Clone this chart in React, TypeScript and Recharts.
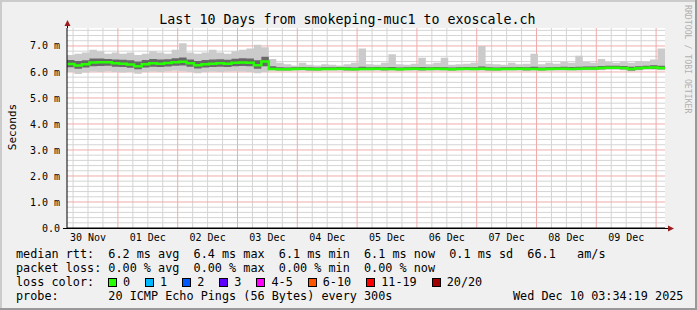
import React from "react";
import { ComposedChart, Area, Line, XAxis, YAxis, CartesianGrid } from "recharts";

// hours after 30 Nov 00:00, graph starts 30 Nov 03:34:19
const START = 3.572;
const STEP = 3;
const SPAN = 240;

const medianRtt = [
  6.31, 6.25, 6.3, 6.36, 6.37, 6.37, 6.33, 6.32, 6.29, 6.22,
  6.3, 6.33, 6.32, 6.34, 6.37, 6.39, 6.33, 6.26, 6.3, 6.32,
  6.33, 6.32, 6.35, 6.36, 6.35, 6.26, 6.4, 6.11, 6.1, 6.1,
  6.11, 6.12, 6.11, 6.1, 6.11, 6.11, 6.12, 6.11, 6.1, 6.11,
  6.11, 6.12, 6.11, 6.11, 6.1, 6.11, 6.12, 6.11, 6.11, 6.12,
  6.11, 6.1, 6.11, 6.12, 6.11, 6.12, 6.11, 6.1, 6.11, 6.11,
  6.12, 6.11, 6.11, 6.1, 6.11, 6.12, 6.12, 6.11, 6.12, 6.13,
  6.13, 6.15, 6.16, 6.16, 6.15, 6.11, 6.14, 6.16, 6.17, 6.15,
  6.15,
];

const smokeMin = [
  6.0, 5.92, 5.98, 6.02, 6.0, 6.03, 6.0, 5.98, 6.0, 5.93,
  6.0, 6.02, 6.0, 6.03, 6.05, 6.03, 6.0, 5.95, 6.0, 6.02,
  6.0, 6.02, 6.03, 6.02, 6.0, 5.95, 6.0, 6.05, 6.04, 6.04,
  6.05, 6.05, 6.04, 6.04, 6.05, 6.05, 6.05, 6.04, 6.04, 6.05,
  6.05, 6.05, 6.04, 6.05, 6.04, 6.05, 6.05, 6.04, 6.05, 6.05,
  6.05, 6.04, 6.05, 6.05, 6.05, 6.05, 6.04, 6.04, 6.05, 6.05,
  6.05, 6.04, 6.05, 6.04, 6.05, 6.05, 6.05, 6.05, 6.05, 6.06,
  6.06, 6.07, 6.08, 6.08, 6.07, 6.03, 6.06, 6.08, 6.08, 6.07,
  6.07,
];

const smokeLo = [
  6.18, 6.12, 6.17, 6.22, 6.23, 6.24, 6.2, 6.19, 6.16, 6.1,
  6.17, 6.2, 6.19, 6.21, 6.24, 6.25, 6.2, 6.13, 6.17, 6.19,
  6.2, 6.19, 6.22, 6.23, 6.22, 6.12, 6.22, 6.08, 6.07, 6.07,
  6.08, 6.08, 6.07, 6.07, 6.08, 6.08, 6.08, 6.07, 6.07, 6.08,
  6.08, 6.08, 6.07, 6.08, 6.07, 6.08, 6.08, 6.07, 6.08, 6.08,
  6.08, 6.07, 6.08, 6.08, 6.08, 6.08, 6.07, 6.07, 6.08, 6.08,
  6.08, 6.07, 6.08, 6.07, 6.08, 6.08, 6.08, 6.08, 6.08, 6.09,
  6.09, 6.1, 6.11, 6.11, 6.1, 6.06, 6.09, 6.11, 6.11, 6.1,
  6.1,
];

const smokeHi = [
  6.46, 6.42, 6.45, 6.52, 6.52, 6.5, 6.48, 6.47, 6.45, 6.4,
  6.46, 6.5, 6.48, 6.49, 6.53, 6.56, 6.48, 6.42, 6.46, 6.48,
  6.49, 6.47, 6.51, 6.53, 6.52, 6.45, 6.58, 6.22, 6.18, 6.17,
  6.18, 6.19, 6.18, 6.17, 6.18, 6.18, 6.19, 6.18, 6.17, 6.2,
  6.18, 6.19, 6.18, 6.19, 6.17, 6.18, 6.19, 6.19, 6.18, 6.19,
  6.18, 6.17, 6.18, 6.19, 6.18, 6.21, 6.18, 6.17, 6.18, 6.18,
  6.19, 6.18, 6.2, 6.17, 6.18, 6.19, 6.2, 6.19, 6.2, 6.21,
  6.21, 6.23, 6.24, 6.24, 6.23, 6.2, 6.22, 6.24, 6.26, 6.24,
  6.24,
];

const smokeMax = [
  6.65, 6.7, 6.75, 6.85, 6.8, 6.7, 6.75, 6.7, 6.75, 6.65,
  6.7, 6.8, 6.75, 6.7, 6.85, 7.1, 6.75, 6.7, 6.75, 6.85,
  6.75, 6.7, 6.8, 6.85, 6.9, 7.05, 6.95, 6.5, 6.35, 6.3,
  6.25, 6.35, 6.28, 6.25, 6.3, 6.28, 6.25, 6.3, 6.35, 6.9,
  6.3, 6.28, 6.35, 6.68, 6.3, 6.28, 6.32, 6.55, 6.3, 6.35,
  6.55, 6.28, 6.3, 6.32, 6.35, 7.0, 6.32, 6.3, 6.28, 6.35,
  6.3, 6.32, 6.7, 6.3, 6.35, 6.32, 6.38, 6.35, 6.62, 6.38,
  6.35, 6.5, 6.38, 6.35, 6.4, 6.35, 6.42, 6.4, 6.48, 6.9,
  6.4,
];

const dayTicks = [12, 36, 60, 84, 108, 132, 156, 180, 204, 228];
const dayLabels = ["30 Nov", "01 Dec", "02 Dec", "03 Dec", "04 Dec", "05 Dec", "06 Dec", "07 Dec", "08 Dec", "09 Dec"];
const yTicks = [0, 1, 2, 3, 4, 5, 6, 7];

const lossColors = [
  { label: "0", color: "#26ff00" },
  { label: "1", color: "#00b8ff" },
  { label: "2", color: "#0059ff" },
  { label: "3", color: "#5e00ff" },
  { label: "4-5", color: "#ff00ff" },
  { label: "6-10", color: "#ff5500" },
  { label: "11-19", color: "#ff0000" },
  { label: "20/20", color: "#a00000" },
];

const data = medianRtt.map((m, i) => ({
  t: START + i * STEP,
  median: m,
  outer: [smokeMin[i], smokeMax[i]],
  inner: [smokeLo[i], smokeHi[i]],
}));

// grid positions
const majorX = Array.from({ length: 10 }, (_, i) => 24 * (i + 1));
const minorX = Array.from({ length: 40 }, (_, i) => 6 * (i + 1)).filter((v) => v % 24 !== 0);
const majorY = [1, 2, 3, 4, 5, 6, 7];
const minorY = Array.from({ length: 38 }, (_, i) => Math.round((i + 1) * 2) / 10).filter(
  (v) => Math.abs(v - Math.round(v)) > 0.01
);

const mono = "'DejaVu Sans Mono', monospace";
const tickStyle = { fontSize: 10, fill: "#000", fontFamily: mono };

const line = (top: number): React.CSSProperties => ({
  position: "absolute",
  left: 16,
  top,
  fontFamily: mono,
  fontSize: 11.8,
  lineHeight: "14px",
  whiteSpace: "pre",
  color: "#000",
});

export default function App() {
  return (
    <div style={{ position: "absolute", left: 0, top: 0, width: 697, height: 310, background: "#f0f0f0", overflow: "hidden" }}>
      <ComposedChart width={697} height={310} data={data} margin={{ top: 28, right: 32, bottom: 62, left: 0 }}>
        <CartesianGrid
          fill="#ffffff"
          stroke="#d4d4d4"
          verticalValues={minorX}
          horizontalValues={minorY}
        />
        <CartesianGrid
          stroke="#f0acac"
          verticalValues={majorX}
          horizontalValues={majorY}
        />
        <XAxis
          type="number"
          dataKey="t"
          domain={[START, START + SPAN]}
          ticks={dayTicks}
          tickFormatter={(v: number) => dayLabels[dayTicks.indexOf(v)]}
          allowDataOverflow
          height={20}
          tickSize={0}
          tickLine={false}
          tickMargin={6}
          axisLine={{ stroke: "#000" }}
          tick={tickStyle}
          interval={0}
        />
        <YAxis
          type="number"
          domain={[0, 7.69]}
          ticks={yTicks}
          tickFormatter={(v: number) => (v === 0 ? "0.0" : `${v.toFixed(1)} m`)}
          allowDataOverflow
          width={67}
          tickSize={0}
          tickLine={false}
          tickMargin={7}
          axisLine={{ stroke: "#000" }}
          tick={tickStyle}
          interval={0}
        />
        <Area dataKey="outer" type="stepAfter" stroke="none" fill="#cbcbcb" fillOpacity={1} isAnimationActive={false} />
        <Area dataKey="inner" type="stepAfter" stroke="none" fill="#686868" fillOpacity={1} isAnimationActive={false} />
        <Line dataKey="median" type="stepAfter" stroke="#26ff00" strokeWidth={2.5} dot={false} isAnimationActive={false} />
      </ComposedChart>

      <svg width={697} height={310} style={{ position: "absolute", left: 0, top: 0, pointerEvents: "none" }}>
        <line x1={67.5} y1={28} x2={67.5} y2={21} stroke="#000" />
        <polygon points="64.5,26 70.5,26 67.5,20" fill="#9b1c1c" />
        <line x1={63} y1={228.5} x2={668} y2={228.5} stroke="#000" />
        <polygon points="668,225.5 668,231.5 674,228.5" fill="#9b1c1c" />
        <text x={347.5} y={24} textAnchor="middle" fontFamily={mono} fontSize={13.3} fill="#000">
          Last 10 Days from smokeping-muc1 to exoscale.ch
        </text>
        <text x={15.5} y={127} textAnchor="middle" fontFamily={mono} fontSize={11} fill="#000" transform="rotate(-90 15.5 127)">
          Seconds
        </text>
        <text x={685} y={5} fontFamily={mono} fontSize={8.2} fill="#b0b0b0" transform="rotate(90 685 5)">
          RRDTOOL / TOBI OETIKER
        </text>
      </svg>

      <div style={line(247)}>{"median rtt:  6.2 ms avg  6.4 ms max  6.1 ms min  6.1 ms now  0.1 ms sd  66.1   am/s"}</div>
      <div style={line(261)}>{"packet loss: 0.00 % avg  0.00 % max  0.00 % min  0.00 % now"}</div>
      <div style={{ ...line(275), display: "flex", alignItems: "center" }}>
        <span style={{ width: 92 }}>{"loss color:"}</span>
        {lossColors.map((c) => (
          <span key={c.label} style={{ display: "flex", alignItems: "center", marginRight: 15 }}>
            <span style={{ width: 7, height: 7, border: "1px solid #000", background: c.color, marginRight: 6 }} />
            <span>{c.label}</span>
          </span>
        ))}
      </div>
      <div style={line(289)}>{"probe:       20 ICMP Echo Pings (56 Bytes) every 300s"}</div>
      <div style={{ ...line(289), left: 513 }}>{"Wed Dec 10 03:34:19 2025"}</div>

      <div style={{ position: "absolute", left: 0, top: 0, width: 697, height: 2, background: "#cbcbcb" }} />
      <div style={{ position: "absolute", left: 0, top: 0, width: 2, height: 310, background: "#cbcbcb" }} />
      <div style={{ position: "absolute", left: 0, top: 308, width: 697, height: 2, background: "#999999" }} />
      <div style={{ position: "absolute", left: 695, top: 0, width: 2, height: 310, background: "#999999" }} />
    </div>
  );
}
